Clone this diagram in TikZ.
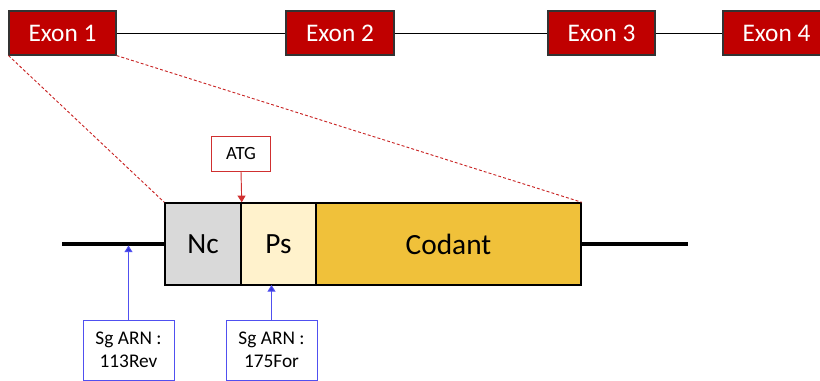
\documentclass[tikz,border=0pt]{standalone}
\usepackage{fontspec}
\setmainfont{Carlito}
\usetikzlibrary{arrows.meta}
\definecolor{exonred}{HTML}{C00000}
\definecolor{ncgray}{HTML}{D9D9D9}
\definecolor{pscream}{HTML}{FFF2CC}
\definecolor{codgold}{HTML}{F0C13A}
\definecolor{atgred}{HTML}{D03030}
\definecolor{sgblue}{HTML}{5050F0}
\definecolor{arrblue}{HTML}{3838D8}
\tikzset{
  exon/.style={draw=black!80, line width=0.8pt, fill=exonred, text=white, inner sep=0pt,
    minimum height=44*0.75pt, font=\fontsize{19}{21}\selectfont},
  seg/.style={draw=black, line width=1.1pt, inner sep=0pt, minimum height=82*0.75pt,
    font=\fontsize{22}{25}\selectfont},
  atgbox/.style={draw=atgred, line width=0.7pt, fill=white, inner sep=0pt,
    minimum width=59*0.75pt, minimum height=35*0.75pt, font=\fontsize{14}{16}\selectfont},
  sgbox/.style={draw=sgblue, line width=0.7pt, fill=white, inner sep=0pt, align=center,
    minimum width=91*0.75pt, minimum height=60*0.75pt, font=\fontsize{14.5}{17.5}\selectfont},
  zoomline/.style={draw=exonred!85, dashed, dash pattern=on 2.2pt off 1.6pt, line width=0.7pt},
  intron/.style={draw=black, line width=0.75pt},
  dna/.style={draw=black, line width=3pt},
  atgarrow/.style={draw=atgred, line width=0.7pt, -{Triangle[length=5pt,width=6pt]}},
  sgarrow/.style={draw=sgblue, line width=0.7pt, -{Triangle[length=5pt,width=6pt,fill=arrblue]}},
}
\begin{document}
\begin{tikzpicture}[x=0.75pt, y=-0.75pt]
\useasboundingbox (0,0) rectangle (820,380);
\clip (0,0) rectangle (820,380);
% exons
\node[exon, minimum width=107*0.75pt] (e1) at (62.5,33) {Exon 1};
\node[exon, minimum width=108*0.75pt] (e2) at (340,33) {Exon 2};
\node[exon, minimum width=107*0.75pt] (e3) at (601.5,33) {Exon 3};
\node[exon, minimum width=107*0.75pt] (e4) at (776.5,33) {Exon 4};
\draw[intron] (e1.east) -- (e2.west);
\draw[intron] (e2.east) -- (e3.west);
\draw[intron] (e3.east) -- (e4.west);
% gene segments
\coordinate (L) at (62,244);
\coordinate (R) at (688,244);
\node[seg, fill=ncgray, minimum width=76*0.75pt] (nc) at (203,244) {Nc};
\node[seg, fill=pscream, minimum width=75*0.75pt] (ps) at (278.5,244) {Ps};
\node[seg, fill=codgold, minimum width=265*0.75pt] (cod) at (448.5,244) {Codant};
\draw[dna] (L) -- (nc.west);
\draw[dna] (cod.east) -- (R);
% zoom lines
\draw[zoomline] (e1.south west) -- (nc.north west);
\draw[zoomline] (e1.south east) -- (cod.north east);
% ATG
\node[atgbox] (atg) at (241,153.5) {ATG};
\draw[atgarrow] (atg.south) -- (nc.north east);
% sgRNA
\node[sgbox] (sg1) at (128.5,350) {Sg ARN :\\113Rev};
\node[sgbox] (sg2) at (271.5,350) {Sg ARN :\\175For};
\coordinate (t1) at (128.5,245.5);
\coordinate (t2) at (271.5,285);
\draw[sgarrow] (sg1.north) -- (t1);
\draw[sgarrow] (sg2.north) -- (t2);
\end{tikzpicture}
\end{document}
